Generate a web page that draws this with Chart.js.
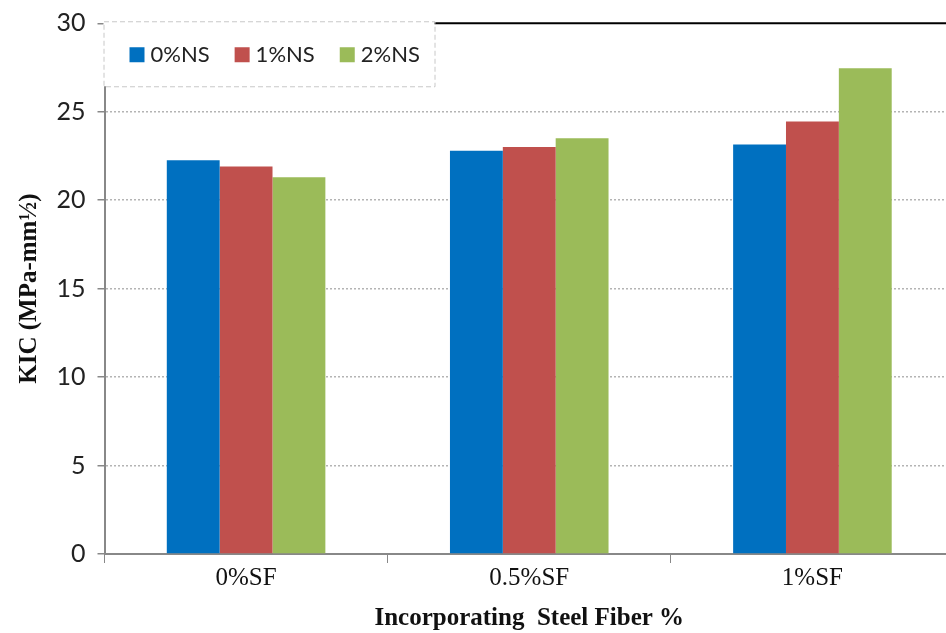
<!DOCTYPE html>
<html lang="en">
<head>
<meta charset="UTF-8">
<title>KIC vs Steel Fiber</title>
<script src="https://cdn.jsdelivr.net/npm/chart.js"></script>
<style>
    html, body { margin: 0; padding: 0; background: #fff; overflow: hidden; }
    #wrap { width: 960px; height: 633px; }
</style>
</head>
<body>
<div id="wrap"><canvas id="myChart"></canvas></div>
<script>
// data
var categories = ["0%SF", "0.5%SF", "1%SF"];
var seriesNames = ["0%NS", "1%NS", "2%NS"];
var ns0 = [22.25, 22.8, 23.15];
var ns1 = [21.9, 23.0, 24.45];
var ns2 = [21.3, 23.5, 27.45];
var seriesColors = ["#0070C0", "#C0504D", "#9BBB59"];

// top border + legend box drawn inside the plot area
var boxLegend = {
    id: "boxLegend",
    afterDraw: function(chart) {
        var ctx = chart.ctx, a = chart.chartArea;
        ctx.save();
        ctx.strokeStyle = "#000";
        ctx.lineWidth = 2;
        ctx.beginPath();
        ctx.moveTo(a.left, a.top);
        ctx.lineTo(a.right, a.top);
        ctx.stroke();

        var x0 = a.left - 1, y0 = a.top - 2, w = 331, h = 65;
        ctx.fillStyle = "#fff";
        ctx.fillRect(x0, y0, w, h);
        ctx.setLineDash([5, 3]);
        ctx.lineWidth = 1;
        ctx.strokeStyle = "#c8c8c8";
        ctx.strokeRect(x0 + 0.5, y0 + 0.5, w, h);
        ctx.setLineDash([]);

        ctx.font = "22px Lato, 'Open Sans', sans-serif";
        ctx.textBaseline = "middle";
        var x = x0 + 26, yc = y0 + 33;
        chart.data.datasets.forEach(function(ds) {
            ctx.fillStyle = ds.backgroundColor;
            ctx.fillRect(x, yc - 7, 15, 15);
            ctx.fillStyle = "#222";
            ctx.fillText(ds.label, x + 21, yc + 1);
            x += 21 + ctx.measureText(ds.label).width + 25;
        });
        ctx.restore();
    }
};

new Chart("myChart", {
    type: "bar",
    data: {
        labels: categories,
        datasets: [
            { label: seriesNames[0], data: ns0, backgroundColor: seriesColors[0] },
            { label: seriesNames[1], data: ns1, backgroundColor: seriesColors[1] },
            { label: seriesNames[2], data: ns2, backgroundColor: seriesColors[2] }
        ]
    },
    options: {
        responsive: true,
        maintainAspectRatio: false,
        animation: false,
        layout: { padding: { top: 4, right: 6, left: 16, bottom: 1 } },
        datasets: { bar: { categoryPercentage: 0.56, barPercentage: 1.0 } },
        plugins: {
            legend: { display: false },
            tooltip: { enabled: false }
        },
        scales: {
            x: {
                grid: {
                    offset: true,
                    drawOnChartArea: false,
                    tickLength: 9,
                    color: "#888"
                },
                border: { color: "#888", width: 2 },
                ticks: {
                    color: "#111",
                    padding: 2,
                    font: { family: "'Liberation Serif', 'DejaVu Serif', serif", size: 25, lineHeight: 1.1 }
                },
                title: {
                    display: true,
                    text: "Incorporating  Steel Fiber %",
                    color: "#111",
                    padding: { top: 10, bottom: 0 },
                    font: { family: "'Liberation Serif', serif", size: 25, weight: "bold", lineHeight: 1.1 }
                }
            },
            y: {
                min: 0,
                max: 30,
                ticks: {
                    stepSize: 5,
                    color: "#222",
                    padding: 12,
                    font: { family: "Lato, 'Open Sans', sans-serif", size: 25, lineHeight: 0.9 }
                },
                grid: {
                    tickLength: 7,
                    tickColor: "#888",
                    color: function(c) {
                        return (c.tick && (c.tick.value === 0 || c.tick.value === 30)) ? "rgba(0,0,0,0)" : "#b4b4b4";
                    },
                    lineWidth: 1.5
                },
                border: { color: "#888", width: 2, dash: [2, 2] },
                title: {
                    display: true,
                    text: "KIC (MPa-mm½)",
                    color: "#111",
                    padding: { top: 0, bottom: 1 },
                    font: { family: "'Liberation Serif', serif", size: 25, weight: "bold", lineHeight: 1.1 }
                }
            }
        }
    },
    plugins: [boxLegend]
});
</script>
</body>
</html>
